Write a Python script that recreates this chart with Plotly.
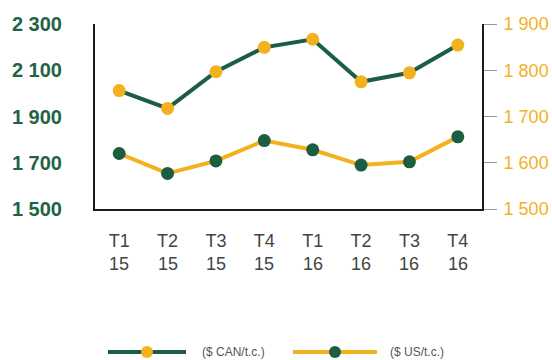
import plotly.graph_objects as go

# Quarterly prices, 2015-2016
quarters = ["T1", "T2", "T3", "T4", "T1", "T2", "T3", "T4"]
years = ["15", "15", "15", "15", "16", "16", "16", "16"]
price_cad = [2012, 1935, 2094, 2199, 2234, 2050, 2089, 2209]   # $ CAN/t.c. (left axis)
price_usd = [1620, 1577, 1604, 1648, 1628, 1595, 1602, 1656]   # $ US/t.c. (right axis)

left_ticks = [1500, 1700, 1900, 2100, 2300]
right_ticks = [1500, 1600, 1700, 1800, 1900]
legend_labels = ["($ CAN/t.c.)", "($ US/t.c.)"]

GREEN = "#1c5e42"
ORANGE = "#f4b11f"

W, H = 552, 360
ML, MR, MT, MB = 95, 70, 24, 151
PW, PH = W - ML - MR, H - MT - MB


def px_x(p):
    return (p - ML) / PW


def px_y(p):
    return (H - MB - p) / PH


idx = list(range(len(quarters)))

fig = go.Figure()
fig.add_trace(go.Scatter(
    x=idx, y=price_cad, mode="lines+markers", yaxis="y",
    line=dict(color=GREEN, width=4),
    marker=dict(color=ORANGE, size=13),
    showlegend=False, cliponaxis=False,
))
fig.add_trace(go.Scatter(
    x=idx, y=price_usd, mode="lines+markers", yaxis="y2",
    line=dict(color=ORANGE, width=4),
    marker=dict(color=GREEN, size=13),
    showlegend=False, cliponaxis=False,
))

# Year row under the quarter labels
annotations = []
for i, yr in enumerate(years):
    annotations.append(dict(
        x=i, y=px_y(264), xref="x", yref="paper", text=yr, showarrow=False,
        font=dict(family="Arial, Liberation Sans", size=18, color="#444444"),
        xanchor="center", yanchor="middle",
    ))

# Hand-built legend
shapes = []
legend_items = [
    (108, 186, 147, GREEN, ORANGE, 200, legend_labels[0]),
    (293, 377, 335, ORANGE, GREEN, 388, legend_labels[1]),
]
ly = 352
for x0, x1, xm, lc, mc, tx, label in legend_items:
    shapes.append(dict(type="line", xref="paper", yref="paper",
                       x0=px_x(x0), x1=px_x(x1), y0=px_y(ly), y1=px_y(ly),
                       line=dict(color=lc, width=4)))
    shapes.append(dict(type="circle", xref="paper", yref="paper",
                       xsizemode="pixel", ysizemode="pixel",
                       xanchor=px_x(xm), yanchor=px_y(ly),
                       x0=-6, x1=6, y0=-6, y1=6,
                       fillcolor=mc, line=dict(width=0)))
    annotations.append(dict(
        x=px_x(tx), y=px_y(ly), xref="paper", yref="paper", text=label,
        showarrow=False, xanchor="left", yanchor="middle",
        font=dict(family="Arial, Liberation Sans", size=12, color="#555555"),
    ))

fig.update_layout(
    width=W, height=H,
    margin=dict(l=ML, r=MR, t=MT, b=MB, autoexpand=False),
    paper_bgcolor="white", plot_bgcolor="white",
    separators=", ",
    xaxis=dict(
        range=[-0.5, 7.5], tickmode="array", tickvals=idx, ticktext=quarters,
        showgrid=False, zeroline=False, showline=True, linecolor="#1a1a1a", linewidth=2,
        ticks="", ticklabelstandoff=14, automargin=False,
        tickfont=dict(family="Arial, Liberation Sans", size=18, color="#444444"),
    ),
    yaxis=dict(
        range=[1500, 2300], tickmode="array", tickvals=left_ticks,
        showgrid=False, zeroline=False, showline=True, linecolor="#1a1a1a", linewidth=2,
        ticks="", ticklabelstandoff=27, tickformat=",d", automargin=False,
        tickfont=dict(family="Arial, Liberation Sans", size=20, color="#1f6346", weight=600),
    ),
    yaxis2=dict(
        range=[1500, 1900], tickmode="array", tickvals=right_ticks,
        overlaying="y", side="right",
        showgrid=False, zeroline=False, showline=True, linecolor="#1a1a1a", linewidth=2,
        ticks="outside", ticklen=13, tickcolor="#999999", tickwidth=1,
        ticklabelstandoff=3, tickformat=",d", automargin=False,
        tickfont=dict(family="Arial, Liberation Sans", size=18, color=ORANGE),
    ),
    shapes=shapes,
    annotations=annotations,
)

fig.write_html("out.html")
